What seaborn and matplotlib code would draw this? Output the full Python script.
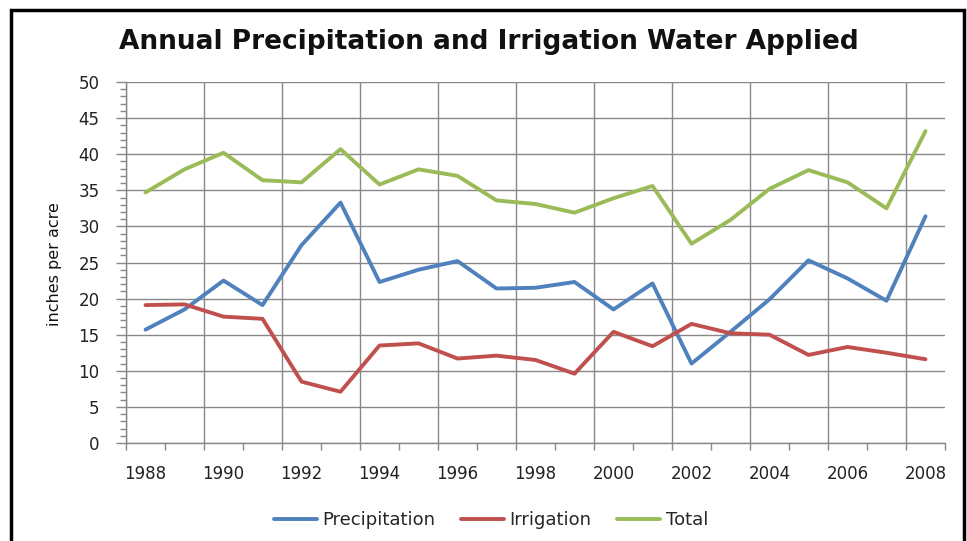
import seaborn as sns
import pandas as pd
import matplotlib.pyplot as plt
from matplotlib.patches import Rectangle

# dados
anos = list(range(1988, 2009))
precipitacao = [15.7, 18.5, 22.5, 19.1, 27.4, 33.3, 22.3, 24.0, 25.2, 21.4, 21.5,
                22.3, 18.5, 22.1, 11.0, 15.4, 19.9, 25.3, 22.8, 19.7, 31.4]
irrigacao = [19.1, 19.2, 17.5, 17.2, 8.5, 7.1, 13.5, 13.8, 11.7, 12.1, 11.5,
             9.6, 15.4, 13.4, 16.5, 15.2, 15.0, 12.2, 13.3, 12.5, 11.6]
total = [34.7, 37.9, 40.2, 36.4, 36.1, 40.7, 35.8, 37.9, 37.0, 33.6, 33.1,
         31.9, 33.9, 35.6, 27.6, 30.9, 35.2, 37.8, 36.1, 32.5, 43.2]
series = ["Precipitation", "Irrigation", "Total"]
cores = ["#4F81BD", "#C0504D", "#9BBB59"]

df = pd.DataFrame({"Ano": anos, "Precipitation": precipitacao,
                   "Irrigation": irrigacao, "Total": total})
longo = df.melt(id_vars="Ano", value_vars=series, var_name="Serie", value_name="Valor")

sns.set_style("white")
plt.rcParams['font.family'] = ['DejaVu Sans']

fig = plt.figure(figsize=(9.67, 5.41), dpi=100)
ax = fig.add_axes([126 / 967, 1 - 443 / 541, (945 - 126) / 967, (443 - 82) / 541])

sns.lineplot(data=longo, x="Ano", y="Valor", hue="Serie", hue_order=series,
             palette=cores, linewidth=2.8, ax=ax, legend=True)

grid_cor = "#888888"
ax.set_xlim(anos[0] - 0.5, anos[-1] + 0.5)
ax.set_ylim(0, 50)
ax.set_yticks(range(0, 51, 5))
ax.set_yticks(range(0, 51, 1), minor=True)
ax.set_xticks(anos[::2])
ax.set_xticks([a - 0.5 for a in anos] + [anos[-1] + 0.5], minor=True)
ax.tick_params(which="both", left=True, bottom=True)
ax.tick_params(axis="x", which="major", length=0, labelsize=12, pad=16, colors="#222222")
ax.tick_params(axis="x", which="minor", length=5, color=grid_cor, width=1)
ax.tick_params(axis="y", which="major", length=7, labelsize=12, pad=12, width=1,
               color=grid_cor, labelcolor="#222222")
ax.tick_params(axis="y", which="minor", length=4, color=grid_cor, width=1)
ax.grid(axis="y", which="major", color=grid_cor, linewidth=1)
ax.grid(axis="y", which="minor", visible=False)
ax.vlines([a - 0.5 for a in anos[::2]], 0, 50, color=grid_cor, linewidth=1, zorder=0.5)
for lado in ["top", "right"]:
    ax.spines[lado].set_visible(False)
for lado in ["left", "bottom"]:
    ax.spines[lado].set_color(grid_cor)
    ax.spines[lado].set_linewidth(1)
ax.set_xlabel("")
ax.set_ylabel("")

fig.text(55 / 967, 1 - 264 / 541, "inches per acre", rotation=90, ha="center", va="center",
         fontsize=11.5, family=["Liberation Sans Narrow", "DejaVu Sans"], color="#111111")
fig.text(489 / 967, 1 - 42 / 541, "Annual Precipitation and Irrigation Water Applied",
         ha="center", va="center", fontsize=19, fontweight="bold", color="#111111")

ax.legend_.remove()
handles, labels = ax.get_legend_handles_labels()
fig.legend(handles, labels, loc="center", bbox_to_anchor=(491 / 967, 1 - 520 / 541),
           ncol=3, frameon=False, fontsize=13, handlelength=2.4, handletextpad=0.3,
           columnspacing=1.4)

fig.patches.append(Rectangle((11 / 967, -0.05), (964 - 11) / 967, 1.05 - 10 / 541,
                             transform=fig.transFigure, fill=False, edgecolor="black",
                             linewidth=2.5))

fig.savefig("out.png", dpi=100)
